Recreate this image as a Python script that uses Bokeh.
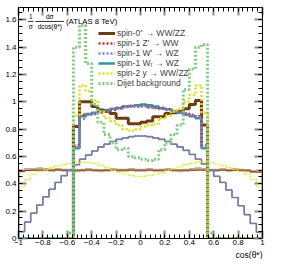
import numpy as np
from bokeh.plotting import figure
from bokeh.models import Range1d, LinearAxis, FixedTicker, Label, Legend, LegendItem, Title
from bokeh.embed import file_html
from bokeh.resources import INLINE

# ---------------- data ----------------
bin_edges = [round(-1.0 + 0.05 * i, 2) for i in range(41)]

spin0_reco = [0] * 9 + [0.82, 1.00, 1.00, 0.965, 0.94, 0.93, 0.915, 0.88, 0.88, 0.84, 0.84,
                        0.85, 0.86, 0.89, 0.89, 0.915, 0.92, 0.93, 0.95, 0.98, 1.01, 0.83] + [0] * 9
zprime_reco = [0] * 9 + [0.68, 0.905, 0.905, 0.91, 0.92, 0.935, 0.94, 0.955, 0.965, 0.97, 0.965,
                         0.97, 0.96, 0.955, 0.95, 0.945, 0.935, 0.925, 0.915, 0.905, 0.895, 0.68] + [0] * 9
wprime_reco = [0] * 9 + [0.67, 0.875, 0.905, 0.915, 0.925, 0.93, 0.945, 0.95, 0.96, 0.965, 0.97,
                         0.965, 0.96, 0.955, 0.95, 0.94, 0.93, 0.92, 0.91, 0.90, 0.89, 0.67] + [0] * 9
wr_reco = [0] * 9 + [0.66, 0.895, 0.91, 0.92, 0.93, 0.94, 0.95, 0.955, 0.965, 0.97, 0.975,
                     0.98, 0.975, 0.965, 0.955, 0.945, 0.93, 0.92, 0.905, 0.895, 0.88, 0.66] + [0] * 9
spin2_reco = [0] * 9 + [0.90, 1.12, 1.08, 1.01, 0.93, 0.88, 0.86, 0.83, 0.80, 0.79, 0.80,
                        0.82, 0.83, 0.84, 0.88, 0.90, 0.93, 0.95, 1.00, 1.05, 1.12, 0.92] + [0] * 9
dijet_reco = [0] * 8 + [0.04] + [1.40, 1.56, 1.28, 0.98, 0.85, 0.76, 0.70, 0.65, 0.66, 0.60, 0.59,
                                 0.58, 0.57, 0.58, 0.65, 0.70, 0.76, 0.83, 1.09, 1.24, 1.40, 1.42] + [0.04] + [0] * 8

spin0_true_a = [0.495, 0.505, 0.505, 0.51, 0.505, 0.50, 0.505, 0.50, 0.50, 0.495,
                0.50, 0.505, 0.50, 0.495, 0.50, 0.505, 0.50, 0.50, 0.505, 0.50,
                0.50, 0.505, 0.50, 0.50, 0.505, 0.50, 0.495, 0.50, 0.505, 0.51,
                0.505, 0.50, 0.50, 0.505, 0.50, 0.505, 0.50, 0.495, 0.49, 0.495]
spin0_true_b = [0.49, 0.497, 0.50, 0.50, 0.498, 0.50, 0.502, 0.50, 0.499, 0.50,
                0.50, 0.501, 0.50, 0.499, 0.50, 0.50, 0.50, 0.501, 0.50, 0.50,
                0.50, 0.50, 0.499, 0.50, 0.501, 0.50, 0.50, 0.50, 0.499, 0.50,
                0.50, 0.501, 0.50, 0.50, 0.499, 0.50, 0.50, 0.50, 0.488, 0.485]
spin1_true = [0.05, 0.12, 0.185, 0.245, 0.305, 0.36, 0.41, 0.46, 0.50, 0.54,
              0.58, 0.61, 0.64, 0.67, 0.69, 0.71, 0.725, 0.735, 0.745, 0.75,
              0.75, 0.745, 0.735, 0.725, 0.71, 0.69, 0.67, 0.645, 0.615, 0.58,
              0.545, 0.50, 0.455, 0.41, 0.355, 0.30, 0.24, 0.175, 0.11, 0.045]
spin2_true = [0.38, 0.43, 0.47, 0.49, 0.50, 0.52, 0.53, 0.54, 0.55, 0.555,
              0.56, 0.555, 0.55, 0.535, 0.52, 0.50, 0.485, 0.47, 0.46, 0.455,
              0.455, 0.46, 0.47, 0.48, 0.50, 0.51, 0.525, 0.54, 0.55, 0.56,
              0.56, 0.555, 0.545, 0.535, 0.52, 0.505, 0.49, 0.47, 0.43, 0.38]

legend_labels = ["spin-0\u207a \u2192 WW/ZZ", "spin-1 Z' \u2192 WW", "spin-1 W' \u2192 WZ",
                 "spin-1 W\u1d63 \u2192 WZ", "spin-2 y \u2192 WW/ZZ", "Dijet background"]

x_ticks = [-1.0, -0.8, -0.6, -0.4, -0.2, 0.0, 0.2, 0.4, 0.6, 0.8, 1.0]
x_tick_labels = ["\u22121", "\u22120.8", "\u22120.6", "\u22120.4", "\u22120.2", "0",
                 "0.2", "0.4", "0.6", "0.8", "1"]
y_ticks = [0.0, 0.2, 0.4, 0.6, 0.8, 1.0, 1.2, 1.4, 1.6]
y_tick_labels = ["0", "0.2", "0.4", "0.6", "0.8", "1", "1.2", "1.4", "1.6"]

FONT = "Liberation Sans"


def outline(edges, vals):
    xs, ys = [edges[0]], [0.0]
    for i, v in enumerate(vals):
        xs += [edges[i], edges[i + 1]]
        ys += [v, v]
    xs.append(edges[-1])
    ys.append(0.0)
    return xs, ys


p = figure(width=268, height=259, x_range=Range1d(-1, 1), y_range=Range1d(0, 1.69),
           output_backend="svg", toolbar_location=None,
           min_border_left=18, min_border_right=6, min_border_top=7, min_border_bottom=20)
p.grid.visible = False
p.outline_line_color = "black"
p.outline_line_width = 1
p.background_fill_color = "white"
p.border_fill_color = "white"

x_minor = [round(v, 2) for v in np.arange(-1.0, 1.0001, 0.04)]
y_minor = [round(v, 2) for v in np.arange(0.0, 1.6901, 0.05)]


def style_axis(ax, ticks, minor, labels, show_labels, standoff=2):
    ax.ticker = FixedTicker(ticks=ticks, minor_ticks=minor)
    ax.axis_line_color = "black"
    ax.major_tick_in = 8
    ax.major_tick_out = 0
    ax.minor_tick_in = 4
    ax.minor_tick_out = 0
    ax.major_tick_line_color = "#8a8a8a"
    ax.major_tick_line_width = 2
    ax.minor_tick_line_color = "black"
    ax.minor_tick_line_width = 1
    if show_labels:
        ax.major_label_overrides = {t: l for t, l in zip(ticks, labels)}
        ax.major_label_text_font = FONT
        ax.major_label_text_font_size = "8px"
        ax.major_label_text_color = "black"
        ax.major_label_standoff = standoff
    else:
        ax.major_label_overrides = {t: "" for t in ticks}
        ax.major_label_text_font_size = "1px"
        ax.major_label_standoff = 0


style_axis(p.xaxis[0], x_ticks, x_minor, x_tick_labels, True, standoff=1)
style_axis(p.yaxis[0], y_ticks, y_minor, y_tick_labels, True, standoff=2)
top_ax = LinearAxis()
style_axis(top_ax, x_ticks, x_minor, x_tick_labels, False)
p.add_layout(top_ax, "above")
right_ax = LinearAxis()
style_axis(right_ax, y_ticks, y_minor, y_tick_labels, False)
p.add_layout(right_ax, "right")

xs, ys = outline(bin_edges, spin0_true_a)
p.line(xs, ys, line_color="#c4a98c", line_width=3)
xs, ys = outline(bin_edges, spin0_true_b)
p.line(xs, ys, line_color="#7a4012", line_width=1)
xs, ys = outline(bin_edges, spin1_true)
p.line(xs, ys, line_color="#44aaaa", line_width=1.6)
p.line(xs, ys, line_color="#7d7dc8", line_width=1.2)
p.line(xs, ys, line_color="#d04a4a", line_width=1, line_dash="1 2")
xs, ys = outline(bin_edges, spin2_true)
p.line(xs, ys, line_color="#e6e620", line_width=1.2, line_dash="2 1")

xs, ys = outline(bin_edges, spin0_reco)
r_s0 = p.line(xs, ys, line_color="#6e3b12", line_width=3)
xs, ys = outline(bin_edges, wr_reco)
r_wr = p.line(xs, ys, line_color="#2e9a9a", line_width=2.5)
xs, ys = outline(bin_edges, zprime_reco)
r_zp = p.line(xs, ys, line_color="#c0302f", line_width=2.5, line_dash="2 2")
xs, ys = outline(bin_edges, wprime_reco)
r_wp = p.line(xs, ys, line_color="#7f7fd5", line_width=2.5, line_dash="2 2")
xs, ys = outline(bin_edges, spin2_reco)
r_s2 = p.line(xs, ys, line_color="#e0e010", line_width=2.5, line_dash="2 2")
xs, ys = outline(bin_edges, dijet_reco)
r_dj = p.line(xs, ys, line_color="#7fcc7f", line_width=3, line_dash="2 2")

legend = Legend(items=[LegendItem(label=legend_labels[0], renderers=[r_s0]),
                       LegendItem(label=legend_labels[1], renderers=[r_zp]),
                       LegendItem(label=legend_labels[2], renderers=[r_wp]),
                       LegendItem(label=legend_labels[3], renderers=[r_wr]),
                       LegendItem(label=legend_labels[4], renderers=[r_s2]),
                       LegendItem(label=legend_labels[5], renderers=[r_dj])],
                location=(80, 150), padding=0, margin=0, spacing=0,
                label_height=10, glyph_height=10, glyph_width=17, label_standoff=2,
                label_text_font=FONT, label_text_font_size="8.5px",
                background_fill_alpha=0, border_line_color=None)
p.add_layout(legend, "center")


def lab(x, y, text, size, align="center"):
    p.add_layout(Label(x=x, y=y, text=text, text_font=FONT, text_font_size=size,
                       text_align=align, text_baseline="middle", text_color="black"))

lab(-0.900, 1.627, "1", "6.5px")
lab(-0.900, 1.550, "\u03c3", "6.5px")
lab(-0.744, 1.627, "d\u03c3", "6.5px")
lab(-0.744, 1.550, "dcos(\u03b8*)", "6.5px")
p.segment(x0=[-0.922, -0.861], y0=[1.588, 1.588], x1=[-0.877, -0.627], y1=[1.588, 1.588],
          line_color="black", line_width=0.8)
lab(-0.611, 1.588, "(ATLAS 8 TeV)", "7.8px", align="left")

p.add_layout(Title(text="cos(\u03b8*)", align="right", text_font=FONT, text_font_size="8.5px",
                   text_font_style="normal", text_color="black", standoff=0, offset=0),
             "below")

open("out.html", "w").write(file_html(p, INLINE))
